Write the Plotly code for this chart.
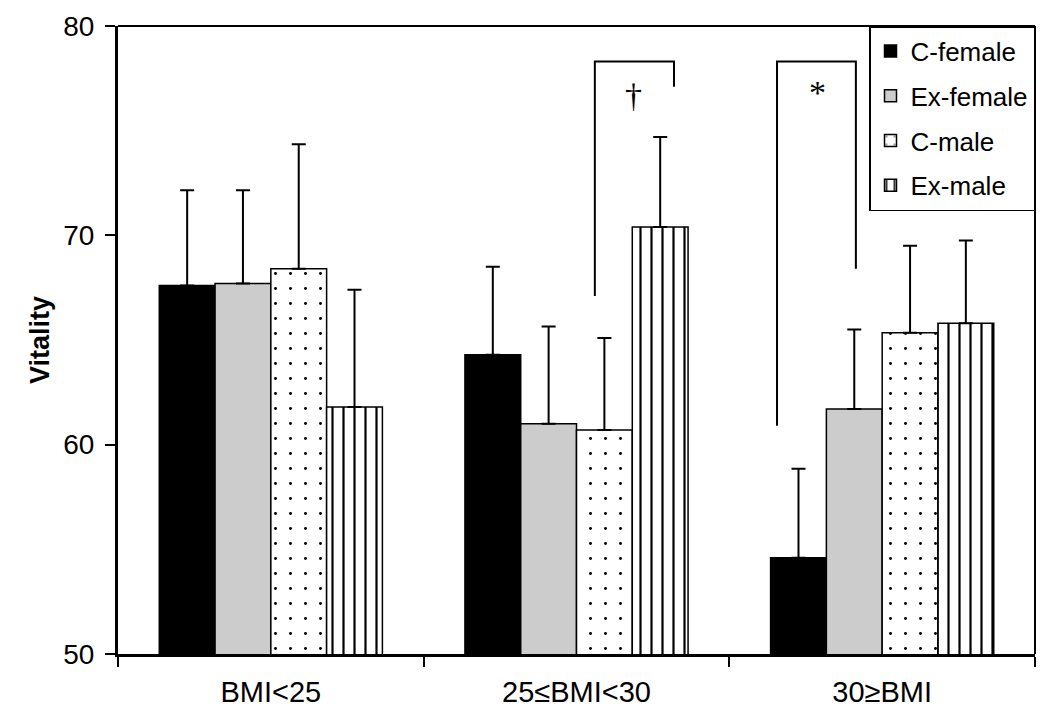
import plotly.graph_objects as go

categories = ["BMI<25", "25≤BMI<30", "30≥BMI"]
series_names = ["C-female", "Ex-female", "C-male", "Ex-male"]

c_female = [67.6, 64.3, 54.6]
ex_female = [67.7, 61.0, 61.7]
c_male = [68.4, 60.7, 65.35]
ex_male = [61.8, 70.4, 65.8]

c_female_sd = [4.55, 4.2, 4.25]
ex_female_sd = [4.45, 4.65, 3.8]
c_male_sd = [5.95, 4.4, 4.15]
ex_male_sd = [5.6, 4.3, 3.95]

y_ticks = [50, 60, 70, 80]

# significance brackets
bracket_x_left = [1.06, 1.656]
bracket_x_right = [1.319, 1.914]
bracket_y_top = [78.3, 78.3]
bracket_y_left_end = [67.1, 60.9]
bracket_y_right_end = [77.1, 68.4]
bracket_symbols = ["†", "*"]
symbol_x = [1.188, 1.787]
symbol_y = [76.7, 76.8]

values = [c_female, ex_female, c_male, ex_male]
sds = [c_female_sd, ex_female_sd, c_male_sd, ex_male_sd]

styles = [
    dict(color="black", pattern=None),
    dict(color="#cccccc", pattern=None),
    dict(color="white", pattern=dict(shape=".", size=15, solidity=0.03, fgcolor="black", bgcolor="white", fillmode="replace")),
    dict(color="white", pattern=dict(shape="|", size=11, solidity=0.2, fgcolor="black", bgcolor="white", fillmode="replace")),
]

fig = go.Figure()
for name, vals, sd, st in zip(series_names, values, sds, styles):
    marker = dict(color=st["color"], line=dict(color="black", width=1.5))
    if st["pattern"] is not None:
        marker["pattern"] = st["pattern"]
    fig.add_trace(go.Bar(
        x=categories, y=vals, name=name, legendgroup=name,
        marker=marker,
        error_y=dict(type="data", array=sd, arrayminus=[0] * len(sd), symmetric=False,
                     color="black", thickness=2, width=7),
    ))

shapes = []
for xl, xr, yt, yl, yr in zip(bracket_x_left, bracket_x_right, bracket_y_top,
                              bracket_y_left_end, bracket_y_right_end):
    shapes.append(dict(type="path", xref="x", yref="y",
                       path=f"M {xl},{yl} L {xl},{yt} L {xr},{yt} L {xr},{yr}",
                       line=dict(color="black", width=2)))
# frame: top and right borders
shapes.append(dict(type="line", xref="paper", yref="paper", x0=0, x1=1, y0=1, y1=1,
                   line=dict(color="black", width=2)))
shapes.append(dict(type="line", xref="paper", yref="paper", x0=1, x1=1, y0=0, y1=1,
                   line=dict(color="black", width=2)))

annotations = []
for s, sx, sy in zip(bracket_symbols, symbol_x, symbol_y):
    annotations.append(dict(x=sx, y=sy, xref="x", yref="y", text=s, showarrow=False,
                            font=dict(family="Liberation Serif", size=34, color="black")))

fig.update_layout(
    width=1050, height=723,
    margin=dict(l=110, r=23, t=18, b=77),
    paper_bgcolor="white", plot_bgcolor="white",
    barmode="group", bargap=0.27, bargroupgap=0,
    font=dict(family="Liberation Sans", color="black"),
    showlegend=True,
    legend=dict(x=1, y=1, xanchor="right", yanchor="top", bgcolor="white",
                bordercolor="black", borderwidth=1.5, font=dict(size=26),
                tracegroupgap=8, traceorder="grouped"),
    shapes=shapes,
    annotations=annotations,
)
fig.update_xaxes(
    type="category", range=[-0.5, 2.5], showline=True, linecolor="black", linewidth=3,
    ticks="outside", tickson="boundaries", ticklen=10, tickwidth=1.5, tickcolor="black",
    tickfont=dict(size=29), ticklabelstandoff=10, showgrid=False, zeroline=False,
    automargin=False,
)
fig.update_yaxes(
    range=[50, 80], tickvals=y_ticks, showline=True, linecolor="black", linewidth=3,
    ticks="outside", ticklen=10, tickwidth=1.5, tickcolor="black",
    tickfont=dict(size=28), ticklabelstandoff=5, showgrid=False, zeroline=False,
    automargin=False,
    title=dict(text="<b>Vitality</b>", font=dict(size=27), standoff=6),
)

fig.write_html("out.html")
